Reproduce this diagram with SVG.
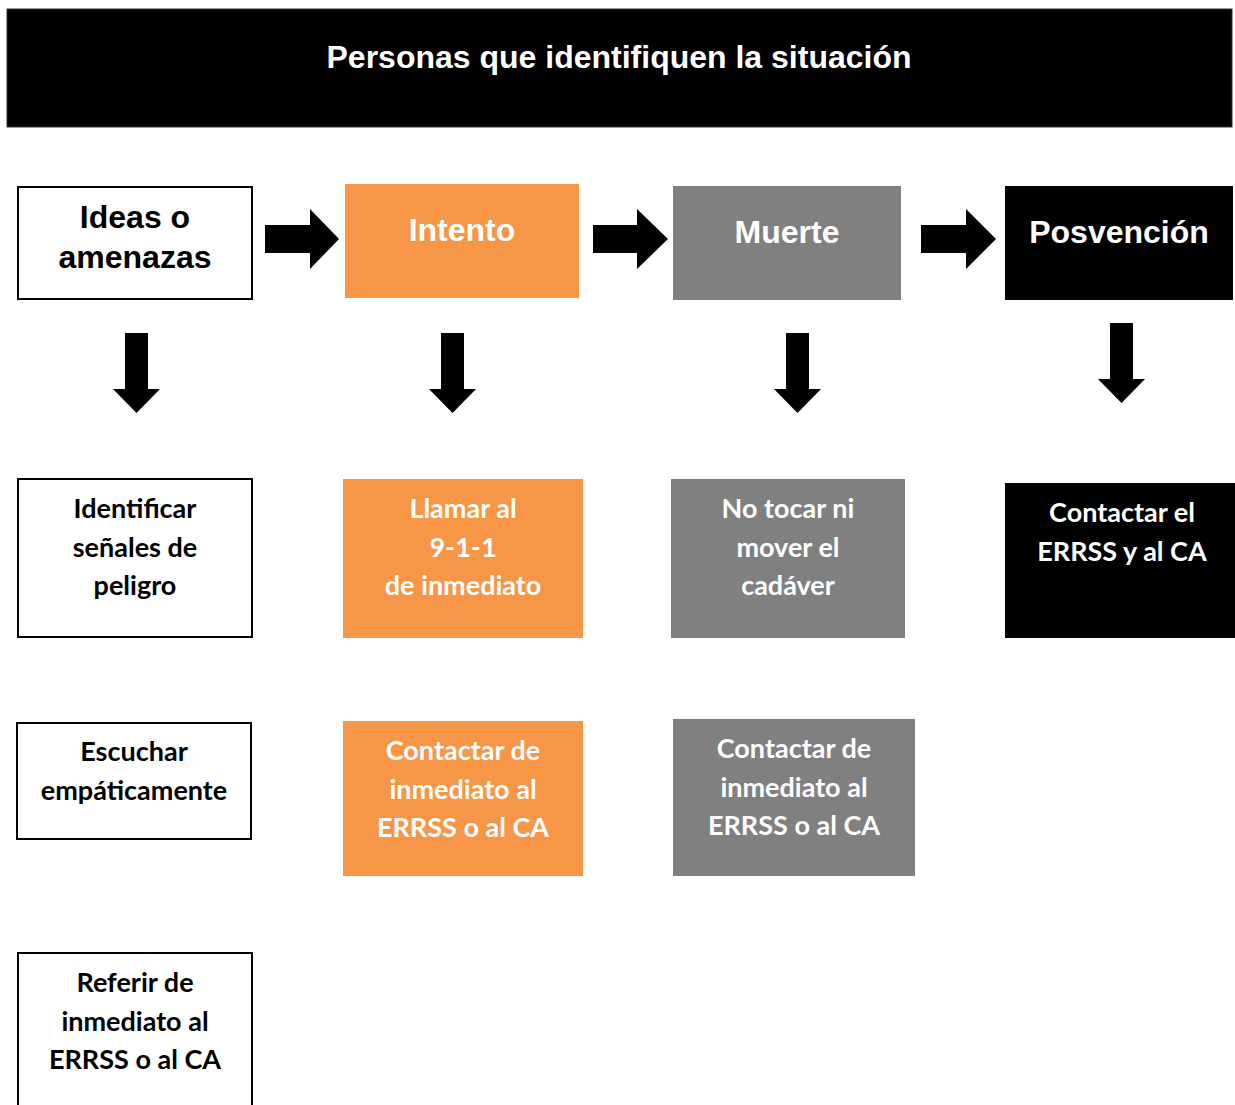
<svg xmlns="http://www.w3.org/2000/svg" width="1235" height="1105" viewBox="0 0 1235 1105">
<style>
.h{font-family:"Liberation Sans",Arial,sans-serif;font-weight:bold;font-size:32px;text-anchor:middle}
.b{font-family:Lato,"Noto Sans",sans-serif;font-weight:bold;font-size:27px;text-anchor:middle}
.w{fill:#ffffff}
.k{fill:#000000}
.wb{fill:#ffffff;stroke:#000000;stroke-width:2}
.or{fill:#F79646}
.gr{fill:#808080}
.bl{fill:#000000}
.arr{fill:#000000}
</style>
<rect width="1235" height="1105" fill="#ffffff"/>
<g id="header">
<rect x="7" y="9" width="1225" height="118" fill="#000000" stroke="#333333" stroke-width="1"/>
<text class="h w" x="619" y="68">Personas que identifiquen la situación</text>
</g>
<g id="ideas">
<rect class="wb" x="18" y="187" width="234" height="112"/>
<text class="h k" x="135" y="228">Ideas o</text>
<text class="h k" x="135" y="268">amenazas</text>
</g>
<g id="intento">
<rect class="or" x="345" y="184" width="234" height="114"/>
<text class="h w" x="462" y="241">Intento</text>
</g>
<g id="muerte">
<rect class="gr" x="673" y="186" width="228" height="114"/>
<text class="h w" x="787" y="243">Muerte</text>
</g>
<g id="posvencion">
<rect class="bl" x="1005" y="186" width="228" height="114"/>
<text class="h w" x="1119" y="243">Posvención</text>
</g>
<g id="connectors">
<polygon class="arr" points="265,225 310,225 310,209 339,239 310,269 310,253 265,253"/>
<polygon class="arr" points="593,225 637,225 637,209 668,239 637,269 637,253 593,253"/>
<polygon class="arr" points="921,225 966,225 966,209 996,239 966,269 966,253 921,253"/>
<polygon class="arr" points="125,333 148,333 148,389 160,389 136.5,413 113,389 125,389"/>
<polygon class="arr" points="441,333 464,333 464,389 476,389 452.5,413 429,389 441,389"/>
<polygon class="arr" points="786,333 809,333 809,389 821,389 797.5,413 774,389 786,389"/>
<polygon class="arr" points="1110,323 1133,323 1133,379 1145,379 1121.5,403 1098,379 1110,379"/>
</g>
<g id="identificar">
<rect class="wb" x="18" y="479" width="234" height="158"/>
<text class="b k" x="135" y="518">Identificar</text>
<text class="b k" x="135" y="557">señales de</text>
<text class="b k" x="135" y="595">peligro</text>
</g>
<g id="llamar">
<rect class="or" x="343" y="479" width="240" height="159"/>
<text class="b w" x="463" y="518">Llamar al</text>
<text class="b w" x="463" y="557">9-1-1</text>
<text class="b w" x="463" y="595">de inmediato</text>
</g>
<g id="notocar">
<rect class="gr" x="671" y="479" width="234" height="159"/>
<text class="b w" x="788" y="518">No tocar ni</text>
<text class="b w" x="788" y="557">mover el</text>
<text class="b w" x="788" y="595">cadáver</text>
</g>
<g id="contactar-el">
<rect class="bl" x="1005" y="483" width="230" height="155"/>
<text class="b w" x="1122" y="522">Contactar el</text>
<text class="b w" x="1122" y="561">ERRSS y al CA</text>
</g>
<g id="escuchar">
<rect class="wb" x="17" y="723" width="234" height="116"/>
<text class="b k" x="134" y="761">Escuchar</text>
<text class="b k" x="134" y="800">empáticamente</text>
</g>
<g id="contactar-intento">
<rect class="or" x="343" y="721" width="240" height="155"/>
<text class="b w" x="463" y="760">Contactar de</text>
<text class="b w" x="463" y="799">inmediato al</text>
<text class="b w" x="463" y="837">ERRSS o al CA</text>
</g>
<g id="contactar-muerte">
<rect class="gr" x="673" y="719" width="242" height="157"/>
<text class="b w" x="794" y="758">Contactar de</text>
<text class="b w" x="794" y="797">inmediato al</text>
<text class="b w" x="794" y="835">ERRSS o al CA</text>
</g>
<g id="referir">
<rect class="wb" x="18" y="953" width="234" height="170"/>
<text class="b k" x="135" y="992">Referir de</text>
<text class="b k" x="135" y="1031">inmediato al</text>
<text class="b k" x="135" y="1069">ERRSS o al CA</text>
</g>
</svg>
